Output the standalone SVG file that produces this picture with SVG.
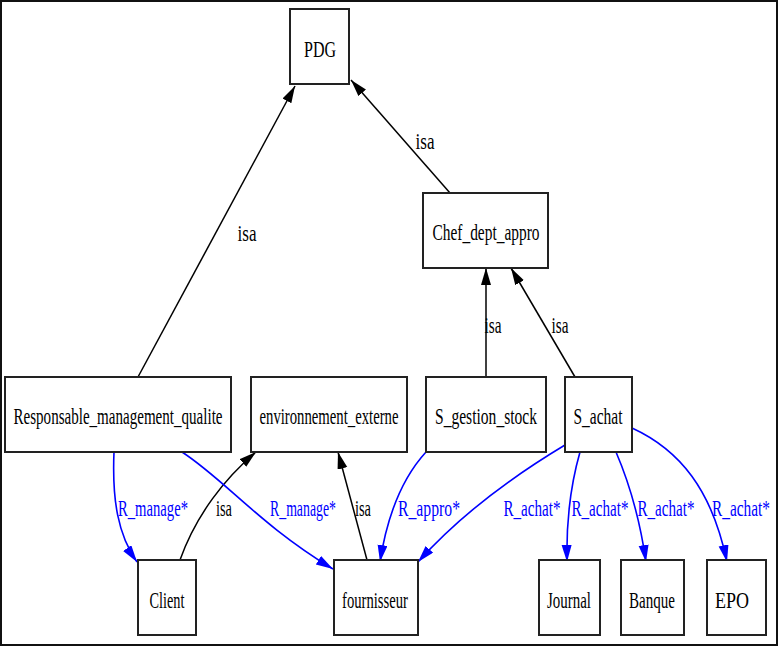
<svg xmlns="http://www.w3.org/2000/svg" width="778" height="646" viewBox="0 0 778 646">
<style>
.node rect{fill:#fff;stroke:#222;stroke-width:2}
text{font-family:"Liberation Serif","Times New Roman",serif;font-size:23px;text-anchor:middle}
.nt{fill:#000}
.isa{stroke:#000;stroke-width:1.5;fill:none;marker-end:url(#ab)}
.rel{stroke:#0000ff;stroke-width:1.6;fill:none;marker-end:url(#au)}
.lb{fill:#000}
.lu{fill:#0000ff}
</style>
<defs>
<marker id="ab" markerUnits="userSpaceOnUse" markerWidth="18" markerHeight="12" refX="17" refY="5" orient="auto"><path d="M0,0 L17,5 L0,10 z" fill="#000"/></marker>
<marker id="au" markerUnits="userSpaceOnUse" markerWidth="18" markerHeight="12" refX="17" refY="5" orient="auto"><path d="M0,0 L17,5 L0,10 z" fill="#0000ff"/></marker>
</defs>
<rect x="1" y="1" width="776" height="644" fill="#fff" stroke="#111" stroke-width="2"/>
<g id="connectors">
<path class="isa" d="M138,377 L295,86"/>
<path class="isa" d="M450,193 L351,80"/>
<path class="isa" d="M486,377 L486,268"/>
<path class="isa" d="M575,377 L511,268"/>
<path class="rel" d="M114,452 C112,500 118,535 137,562"/>
<path class="isa" d="M180,560 C196,515 225,478 256,452"/>
<path class="rel" d="M182,452 C225,480 260,525 333,569"/>
<path class="isa" d="M367,560 L338,452"/>
<path class="rel" d="M426,452 C405,475 388,510 380,562"/>
<path class="rel" d="M565,445 C510,478 460,515 418,562"/>
<path class="rel" d="M580,452 C572,480 566,515 567,562"/>
<path class="rel" d="M616,452 C628,480 640,520 646,562"/>
<path class="rel" d="M632,428 C680,450 712,490 727,562"/>
<text class="lb" x="247" y="241" textLength="19" lengthAdjust="spacingAndGlyphs">isa</text>
<text class="lb" x="425" y="149" textLength="19" lengthAdjust="spacingAndGlyphs">isa</text>
<text class="lb" x="493" y="333" textLength="17" lengthAdjust="spacingAndGlyphs">isa</text>
<text class="lb" x="560" y="333" textLength="17" lengthAdjust="spacingAndGlyphs">isa</text>
<text class="lu" x="153" y="516" textLength="70" lengthAdjust="spacingAndGlyphs">R_manage*</text>
<text class="lb" x="224" y="516" textLength="16" lengthAdjust="spacingAndGlyphs">isa</text>
<text class="lu" x="303" y="516" textLength="66" lengthAdjust="spacingAndGlyphs">R_manage*</text>
<text class="lb" x="363" y="516" textLength="16" lengthAdjust="spacingAndGlyphs">isa</text>
<text class="lu" x="429" y="516" textLength="62" lengthAdjust="spacingAndGlyphs">R_appro*</text>
<text class="lu" x="532" y="516" textLength="57" lengthAdjust="spacingAndGlyphs">R_achat*</text>
<text class="lu" x="600" y="516" textLength="57" lengthAdjust="spacingAndGlyphs">R_achat*</text>
<text class="lu" x="666" y="516" textLength="57" lengthAdjust="spacingAndGlyphs">R_achat*</text>
<text class="lu" x="741" y="516" textLength="58" lengthAdjust="spacingAndGlyphs">R_achat*</text>
</g>
<g id="PDG" class="node"><rect x="290" y="9" width="59" height="75"/><text class="nt" x="320" y="57" textLength="32" lengthAdjust="spacingAndGlyphs">PDG</text></g>
<g id="Chef_dept_appro" class="node"><rect x="423" y="193" width="125" height="75"/><text class="nt" x="486" y="240" textLength="107" lengthAdjust="spacingAndGlyphs">Chef_dept_appro</text></g>
<g id="Responsable_management_qualite" class="node"><rect x="5" y="377" width="226" height="75"/><text class="nt" x="118" y="424" textLength="209" lengthAdjust="spacingAndGlyphs">Responsable_management_qualite</text></g>
<g id="environnement_externe" class="node"><rect x="251" y="377" width="156" height="75"/><text class="nt" x="329" y="424" textLength="139" lengthAdjust="spacingAndGlyphs">environnement_externe</text></g>
<g id="S_gestion_stock" class="node"><rect x="426" y="377" width="120" height="75"/><text class="nt" x="486" y="424" textLength="102" lengthAdjust="spacingAndGlyphs">S_gestion_stock</text></g>
<g id="S_achat" class="node"><rect x="565" y="377" width="67" height="75"/><text class="nt" x="598" y="424" textLength="49" lengthAdjust="spacingAndGlyphs">S_achat</text></g>
<g id="Client" class="node"><rect x="138" y="560" width="58" height="75"/><text class="nt" x="167" y="608" textLength="35" lengthAdjust="spacingAndGlyphs">Client</text></g>
<g id="fournisseur" class="node"><rect x="334" y="560" width="84" height="75"/><text class="nt" x="375" y="608" textLength="66" lengthAdjust="spacingAndGlyphs">fournisseur</text></g>
<g id="Journal" class="node"><rect x="539" y="560" width="61" height="75"/><text class="nt" x="569" y="608" textLength="44" lengthAdjust="spacingAndGlyphs">Journal</text></g>
<g id="Banque" class="node"><rect x="621" y="560" width="63" height="75"/><text class="nt" x="652" y="608" textLength="46" lengthAdjust="spacingAndGlyphs">Banque</text></g>
<g id="EPO" class="node"><rect x="707" y="560" width="59" height="75"/><text class="nt" x="732" y="608" textLength="34" lengthAdjust="spacingAndGlyphs">EPO</text></g>
</svg>
